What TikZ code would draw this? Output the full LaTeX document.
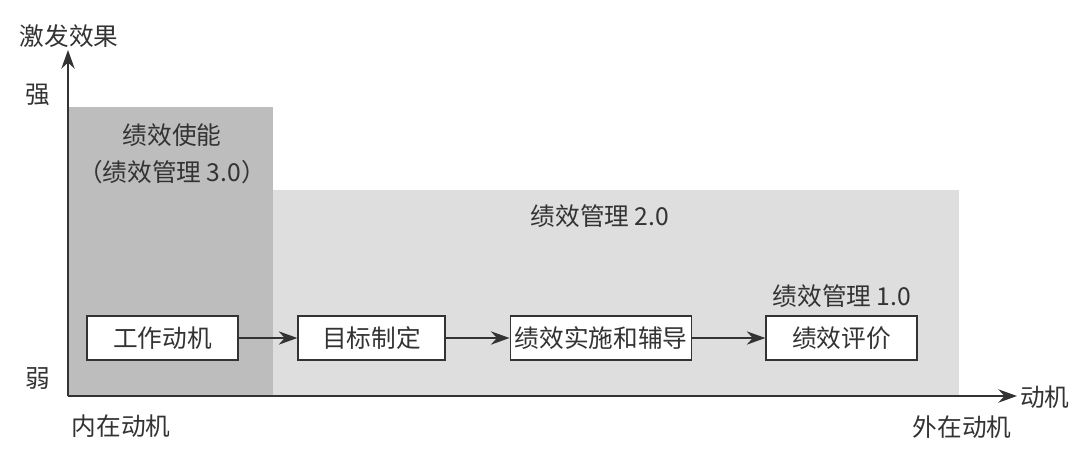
\documentclass[tikz,border=0pt]{standalone}
\usepackage{fontspec}
\setmainfont{Liberation Serif}
\newfontfamily\cjk{Noto Sans CJK SC}
\usetikzlibrary{arrows.meta}
\definecolor{darkzone}{HTML}{BDBDBD}
\definecolor{lightzone}{HTML}{DEDEDE}
\definecolor{inkc}{HTML}{333333}
\begin{document}
\begin{tikzpicture}[x=0.75pt,y=-0.75pt,
  lbl/.style={font=\cjk\fontsize{18.5}{22}\selectfont, text=inkc, inner sep=0pt},
  stepbox/.style={draw=inkc, line width=1.2pt, fill=white, minimum height=33pt, font=\cjk\fontsize{18.5}{22}\selectfont, text=inkc, inner sep=0pt},
  axis/.style={draw=inkc, line width=1.5pt, -{Stealth[length=14pt,width=10pt]}},
  flow/.style={draw=inkc, line width=1.2pt, -{Stealth[length=14pt,width=10pt]}}]
\useasboundingbox (0,0) rectangle (1080,458);
% zones
\fill[lightzone] (273,190) rectangle (959,396);
\fill[darkzone] (69,107) rectangle (273,396);
% axes
\coordinate (o) at (68,396);
\coordinate (ytip) at (68,50);
\coordinate (xtip) at (1017,396);
\draw[axis] (o) -- (ytip);
\draw[axis] (o) -- (xtip);
% axis labels
\node[lbl] (ylab) at (69,36) {激发效果};
\node[lbl] (strong) at (38,95) {强};
\node[lbl] (weak) at (38,379) {弱};
\node[lbl, anchor=west] (xlab) at (1020,397) {动机};
\node[lbl] (inner) at (121,426) {内在动机};
\node[lbl] (outer) at (962,427) {外在动机};
% zone labels
\node[lbl] (z3a) at (172,135) {绩效使能};
\node[lbl] (z3b) at (172,172) {（绩效管理 3.0）};
\node[lbl] (z2) at (600,216) {绩效管理 2.0};
\node[lbl] (z1) at (842,296) {绩效管理 1.0};
% boxes
\node[stepbox, minimum width=113pt] (b1) at (162.5,338) {工作动机};
\node[stepbox, minimum width=110pt] (b2) at (371.5,338) {目标制定};
\node[stepbox, minimum width=136pt] (b3) at (601,338) {绩效实施和辅导};
\node[stepbox, minimum width=113pt] (b4) at (841.5,338) {绩效评价};
\draw[flow] (b1) -- (b2);
\draw[flow] (b2) -- (b3);
\draw[flow] (b3) -- (b4);
\end{tikzpicture}
\end{document}
